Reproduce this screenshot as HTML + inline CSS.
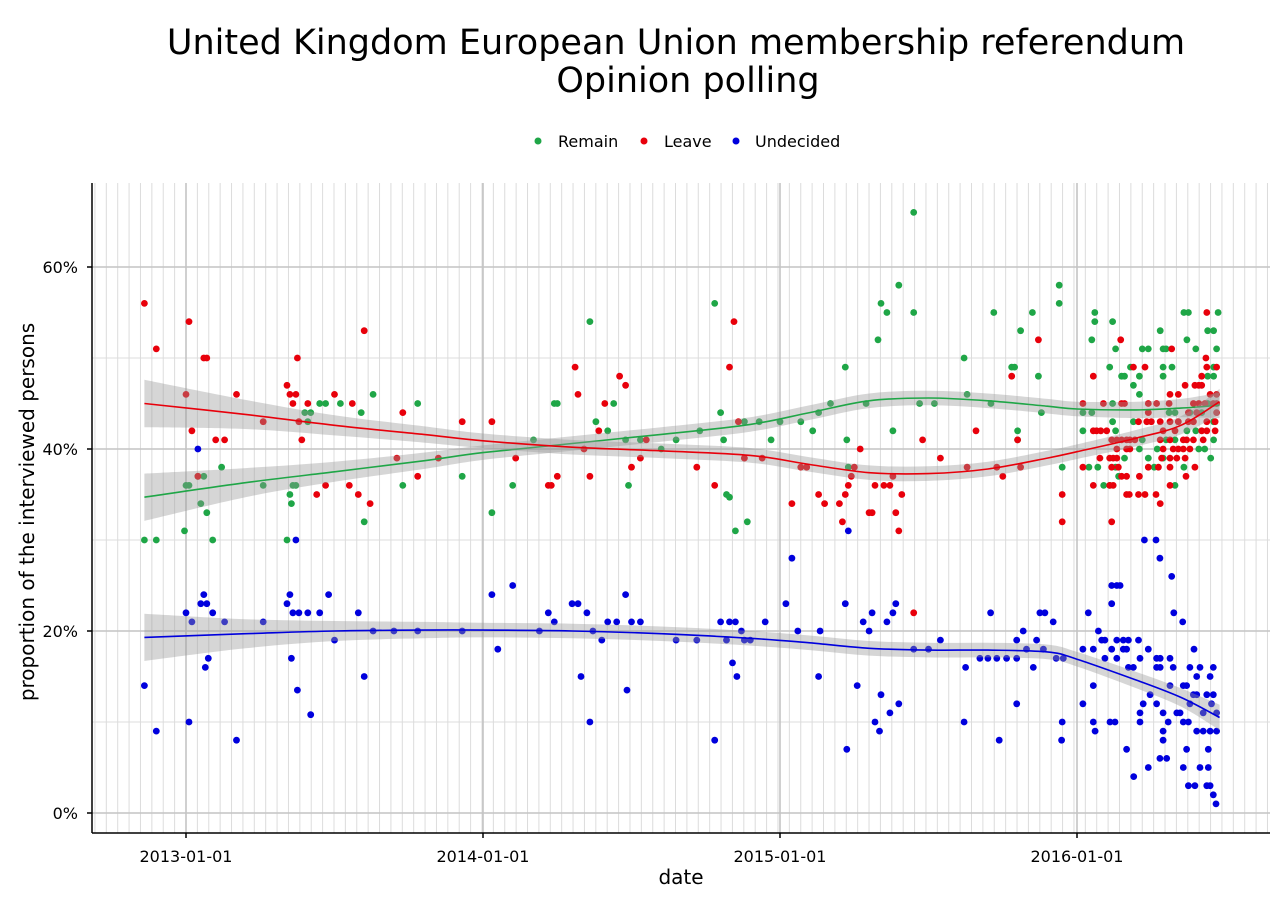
<!DOCTYPE html>
<html><head><meta charset="utf-8"><style>
html,body{margin:0;padding:0;background:#fff;}
svg{display:block;font-family:"DejaVu Sans","Liberation Sans",sans-serif;}
</style></head><body>
<svg id="chart" width="1280" height="905" viewBox="0 0 1280 905">
<text x="676" y="54" text-anchor="middle" font-size="35">United Kingdom European Union membership referendum</text>
<text x="688" y="92" text-anchor="middle" font-size="35">Opinion polling</text>
<g font-size="16">
<g><circle cx="538" cy="141" r="3.5" fill="#1fa647"/><text x="558" y="147">Remain</text></g>
<g><circle cx="644" cy="141" r="3.5" fill="#e8000b"/><text x="664" y="147">Leave</text></g>
<g><circle cx="736" cy="141" r="3.5" fill="#0000dd"/><text x="755" y="147">Undecided</text></g>
</g>
<g id="grid"></g>
<g id="marks"></g>
<g id="axes"></g>
<text x="681" y="884" text-anchor="middle" font-size="20">date</text>
<text transform="translate(34,512) rotate(-90)" text-anchor="middle" font-size="20">proportion of the interviewed persons</text>
</svg>
<script>
const xTicks=[2013,2014,2015,2016];
const xTickLabels=["2013-01-01","2014-01-01","2015-01-01","2016-01-01"];
const yTicks=[0,20,40,60];
const yTickLabels=["0%","20%","40%","60%"];
const remain=[[2012.86,30],[2012.9,30],[2013.0,36],[2013.01,36],[2012.995,31],[2013.04,37],[2013.05,34],[2013.06,37],[2013.07,33],[2013.09,30],[2013.12,38],[2013.26,36],[2013.34,30],[2013.35,35],[2013.355,34],[2013.36,36],[2013.37,36],[2013.4,44],[2013.41,43],[2013.42,44],[2013.45,45],[2013.47,45],[2013.52,45],[2013.59,44],[2013.6,32],[2013.63,46],[2013.73,36],[2013.78,45],[2013.93,37],[2014.03,33],[2014.1,36],[2014.17,41],[2014.24,45],[2014.25,45],[2014.36,54],[2014.38,43],[2014.42,42],[2014.44,45],[2014.48,41],[2014.49,36],[2014.53,41],[2014.6,40],[2014.65,41],[2014.73,42],[2014.78,56],[2014.8,44],[2014.81,41],[2014.82,35],[2014.83,34.7],[2014.85,31],[2014.88,43],[2014.89,32],[2014.93,43],[2014.97,41],[2015.0,43],[2015.07,43],[2015.11,42],[2015.13,44],[2015.17,45],[2015.22,49],[2015.225,41],[2015.23,38],[2015.29,45],[2015.33,52],[2015.34,56],[2015.36,55],[2015.38,42],[2015.4,58],[2015.45,66],[2015.45,55],[2015.47,45],[2015.52,45],[2015.62,50],[2015.63,46],[2015.71,45],[2015.72,55],[2015.78,49],[2015.79,49],[2015.8,41],[2015.8,42],[2015.81,53],[2015.85,55],[2015.87,48],[2015.88,44],[2015.94,58],[2015.94,56],[2015.95,38],
[2016.06,55],[2016.06,54],[2016.12,54],[2016.05,52],[2016.13,51],[2016.11,49],[2016.15,48],[2016.16,48],[2016.19,47],[2016.21,46],[2016.12,45],[2016.05,44],[2016.02,44],[2016.02,42],[2016.13,42],[2016.12,43],[2016.18,49],[2016.21,48],[2016.22,51],[2016.24,51],[2016.28,53],[2016.29,51],[2016.3,51],[2016.29,49],[2016.32,49],[2016.29,48],[2016.37,52],[2016.4,51],[2016.36,55],[2016.375,55],[2016.44,53],[2016.46,53],[2016.47,51],[2016.46,49],[2016.46,48],[2016.44,48],[2016.475,55],[2016.19,43],[2016.22,41],[2016.21,40],[2016.16,39],[2016.13,38],[2016.14,37],[2016.09,36],[2016.11,36],[2016.07,38],[2016.04,38],[2016.24,39],[2016.27,40],[2016.29,39],[2016.33,36],[2016.36,38],[2016.43,40],[2016.45,39],[2016.41,40],[2016.46,41],[2016.4,42],[2016.37,42],[2016.31,44],[2016.33,44],[2016.38,44],[2016.33,41],[2016.3,41],[2016.26,38],[2016.46,43],[2016.44,45],[2016.42,44]];
const leave=[[2012.86,56],[2012.9,51],[2013.0,46],[2013.01,54],[2013.02,42],[2013.04,37],[2013.06,50],[2013.07,50],[2013.1,41],[2013.13,41],[2013.17,46],[2013.26,43],[2013.34,47],[2013.35,46],[2013.36,45],[2013.37,46],[2013.375,50],[2013.38,43],[2013.39,41],[2013.41,45],[2013.44,35],[2013.47,36],[2013.5,46],[2013.55,36],[2013.56,45],[2013.58,35],[2013.6,53],[2013.62,34],[2013.71,39],[2013.73,44],[2013.78,37],[2013.85,39],[2013.93,43],[2014.03,43],[2014.11,39],[2014.22,36],[2014.23,36],[2014.25,37],[2014.31,49],[2014.32,46],[2014.34,40],[2014.36,37],[2014.39,42],[2014.41,45],[2014.46,48],[2014.48,47],[2014.5,38],[2014.53,39],[2014.55,41],[2014.72,38],[2014.78,36],[2014.83,49],[2014.845,54],[2014.86,43],[2014.88,39],[2014.94,39],[2015.04,34],[2015.07,38],[2015.09,38],[2015.13,35],[2015.15,34],[2015.2,34],[2015.21,32],[2015.22,35],[2015.23,36],[2015.24,37],[2015.25,38],[2015.27,40],[2015.3,33],[2015.31,33],[2015.32,36],[2015.35,36],[2015.37,36],[2015.38,37],[2015.39,33],[2015.4,31],[2015.41,35],[2015.45,22],[2015.48,41],[2015.54,39],[2015.63,38],[2015.66,42],[2015.73,38],[2015.75,37],[2015.78,48],[2015.8,41],[2015.81,38],[2015.87,52],[2015.95,35],[2015.95,32],
[2016.02,45],[2016.055,48],[2016.089,45],[2016.15,45],[2016.16,45],[2016.055,42],[2016.066,42],[2016.08,42],[2016.1,42],[2016.117,41],[2016.134,41],[2016.15,41],[2016.167,41],[2016.178,41],[2016.195,41],[2016.134,40],[2016.167,40],[2016.178,40],[2016.077,39],[2016.11,39],[2016.122,39],[2016.134,39],[2016.02,38],[2016.117,38],[2016.139,38],[2016.15,37],[2016.167,37],[2016.21,37],[2016.055,36],[2016.11,36],[2016.122,36],[2016.167,35],[2016.176,35],[2016.207,35],[2016.229,35],[2016.266,35],[2016.28,34],[2016.117,32],[2016.147,52],[2016.19,49],[2016.229,49],[2016.319,51],[2016.24,45],[2016.268,45],[2016.31,45],[2016.313,46],[2016.341,46],[2016.364,47],[2016.397,47],[2016.41,47],[2016.42,47],[2016.434,50],[2016.437,49],[2016.47,49],[2016.42,48],[2016.448,46],[2016.47,46],[2016.392,45],[2016.41,45],[2016.431,45],[2016.459,45],[2016.47,45],[2016.207,43],[2016.235,43],[2016.25,43],[2016.24,44],[2016.28,43],[2016.313,43],[2016.341,43],[2016.375,43],[2016.392,43],[2016.437,43],[2016.465,43],[2016.28,41],[2016.313,41],[2016.358,41],[2016.369,41],[2016.392,41],[2016.425,41],[2016.29,40],[2016.324,40],[2016.341,40],[2016.358,40],[2016.38,40],[2016.285,39],[2016.313,39],[2016.336,39],[2016.364,39],[2016.24,38],[2016.274,38],[2016.313,38],[2016.397,38],[2016.367,37],[2016.313,36],[2016.29,42],[2016.33,42],[2016.42,42],[2016.437,42],[2016.465,42],[2016.437,55],[2016.47,44],[2016.403,44],[2016.375,44]];
const undecided=[[2012.86,14],[2012.9,9],[2013.0,22],[2013.01,10],[2013.02,21],[2013.04,40],[2013.05,23],[2013.06,24],[2013.07,23],[2013.065,16],[2013.075,17],[2013.09,22],[2013.13,21],[2013.17,8],[2013.26,21],[2013.34,23],[2013.35,24],[2013.355,17],[2013.36,22],[2013.37,30],[2013.375,13.5],[2013.38,22],[2013.41,22],[2013.42,10.8],[2013.45,22],[2013.48,24],[2013.5,19],[2013.58,22],[2013.6,15],[2013.63,20],[2013.7,20],[2013.78,20],[2013.93,20],[2014.03,24],[2014.05,18],[2014.1,25],[2014.19,20],[2014.22,22],[2014.24,21],[2014.3,23],[2014.32,23],[2014.33,15],[2014.35,22],[2014.36,10],[2014.37,20],[2014.4,19],[2014.42,21],[2014.45,21],[2014.48,24],[2014.485,13.5],[2014.5,21],[2014.53,21],[2014.65,19],[2014.72,19],[2014.78,8],[2014.8,21],[2014.82,19],[2014.83,21],[2014.84,16.5],[2014.85,21],[2014.855,15],[2014.87,20],[2014.88,19],[2014.9,19],[2014.95,21],[2015.02,23],[2015.04,28],[2015.06,20],[2015.13,15],[2015.135,20],[2015.22,23],[2015.225,7],[2015.23,31],[2015.26,14],[2015.28,21],[2015.3,20],[2015.31,22],[2015.32,10],[2015.335,9],[2015.34,13],[2015.36,21],[2015.37,11],[2015.38,22],[2015.39,23],[2015.4,12],[2015.45,18],[2015.5,18],[2015.54,19],[2015.62,10],[2015.625,16],[2015.673,17],[2015.7,17],[2015.709,22],[2015.73,17],[2015.738,8],[2015.763,17],[2015.797,17],[2015.797,12],[2015.797,19],[2015.819,20],[2015.83,18],[2015.853,16],[2015.864,19],[2015.875,22],[2015.887,18],[2015.892,22],[2015.92,21],[2015.93,17],[2015.948,8],[2015.95,10],[2015.954,17],
[2016.038,22],[2016.072,20],[2016.083,19],[2016.094,19],[2016.134,19],[2016.156,19],[2016.173,19],[2016.207,19],[2016.02,18],[2016.055,18],[2016.117,18],[2016.156,18],[2016.167,18],[2016.24,18],[2016.094,17],[2016.134,17],[2016.212,17],[2016.268,17],[2016.28,17],[2016.313,17],[2016.173,16],[2016.19,16],[2016.268,16],[2016.28,16],[2016.324,16],[2016.38,16],[2016.414,16],[2016.459,16],[2016.403,15],[2016.448,15],[2016.055,14],[2016.246,13],[2016.313,14],[2016.358,14],[2016.369,14],[2016.392,13],[2016.403,13],[2016.437,13],[2016.459,13],[2016.02,12],[2016.223,12],[2016.268,12],[2016.38,12],[2016.453,12],[2016.212,11],[2016.29,11],[2016.336,11],[2016.347,11],[2016.425,11],[2016.47,11],[2016.055,10],[2016.111,10],[2016.128,10],[2016.212,10],[2016.307,10],[2016.358,10],[2016.375,10],[2016.061,9],[2016.29,9],[2016.403,9],[2016.425,9],[2016.448,9],[2016.47,9],[2016.29,8],[2016.167,7],[2016.369,7],[2016.442,7],[2016.279,6],[2016.302,6],[2016.24,5],[2016.358,5],[2016.414,5],[2016.442,5],[2016.191,4],[2016.375,3],[2016.397,3],[2016.437,3],[2016.448,3],[2016.459,2],[2016.468,1],[2016.117,25],[2016.134,25],[2016.145,25],[2016.117,23],[2016.227,30],[2016.266,30],[2016.279,28],[2016.319,26],[2016.326,22],[2016.356,21],[2016.394,18]];
const fitYears=[2012.86,2013.2,2013.5,2013.8,2014.0,2014.3,2014.6,2014.9,2015.1,2015.3,2015.5,2015.7,2015.9,2016.0,2016.2,2016.35,2016.48];
const remainFit=[34.7,36.3,37.5,38.7,39.6,40.6,41.6,42.7,44.0,45.3,45.6,45.3,44.7,44.4,44.3,44.5,44.8];
const leaveFit=[45.0,43.8,42.6,41.6,40.9,40.2,39.8,39.3,38.3,37.4,37.3,37.8,39.0,39.7,41.2,42.6,45.2];
const undecidedFit=[19.3,19.7,20.0,20.1,20.1,20.0,19.7,19.2,18.7,18.1,17.9,17.9,17.7,16.9,14.6,12.7,10.5];
const fitSE=[2.6,1.6,1.1,0.9,0.8,0.8,0.8,0.8,0.8,0.8,0.8,0.8,0.8,0.8,0.9,1.0,1.4];

const NS="http://www.w3.org/2000/svg";
const L=92,R=1270,T=183,B=833;
function xp(yr){return 186+(yr-2013)*297;}
function yp(v){return 813-v*9.1;}
function mk(tag,attrs,parent){const e=document.createElementNS(NS,tag);for(const k in attrs)e.setAttribute(k,attrs[k]);parent.appendChild(e);return e;}
const grid=document.getElementById('grid'),marks=document.getElementById('marks'),axes=document.getElementById('axes');
const step=14/365.25;
for(let t=2013-step*30;t<2016.7;t+=step){const x=xp(t);if(x<L+1||x>R)continue;
 const ln=mk('line',{x1:x,x2:x,y1:T,y2:B,stroke:'#dcdcdc','stroke-width':1},grid);
 
 }
[10,30,50].forEach(v=>{const ln=mk('line',{x1:L,x2:R,y1:yp(v),y2:yp(v),stroke:'#dcdcdc','stroke-width':1},grid);
 
 });
yTicks.forEach(v=>{const ln=mk('line',{x1:L,x2:R,y1:yp(v),y2:yp(v),stroke:'#c4c4c4','stroke-width':1.6},grid);
 
 });
xTicks.forEach(v=>{const ln=mk('line',{x1:xp(v),x2:xp(v),y1:T,y2:B,stroke:'#c4c4c4','stroke-width':1.6},grid);
 
 });
function pts(data,color,name){const g=mk('g',{},marks);
 
 
 data.forEach(d=>{const c=mk('circle',{cx:xp(d[0]).toFixed(1),cy:yp(d[1]).toFixed(1),r:3.4,fill:color},g);
  
  });}
pts(remain,'#1fa647','remain');pts(leave,'#e8000b','leave');pts(undecided,'#0000dd','undecided');
function crPath(arr,start){let d=(start?'M':'L')+arr[0][0].toFixed(1)+','+arr[0][1].toFixed(1);
 for(let i=0;i<arr.length-1;i++){const p0=arr[Math.max(0,i-1)],p1=arr[i],p2=arr[i+1],p3=arr[Math.min(arr.length-1,i+2)];
  const c1=[p1[0]+(p2[0]-p0[0])/6,p1[1]+(p2[1]-p0[1])/6],c2=[p2[0]-(p3[0]-p1[0])/6,p2[1]-(p3[1]-p1[1])/6];
  d+=' C'+c1[0].toFixed(1)+','+c1[1].toFixed(1)+' '+c2[0].toFixed(1)+','+c2[1].toFixed(1)+' '+p2[0].toFixed(1)+','+p2[1].toFixed(1);}
 return d;}
function smooth(fit,color,name){
 const up=fitYears.map((y,i)=>[xp(y),yp(fit[i]+fitSE[i])]);
 const lo=fitYears.map((y,i)=>[xp(y),yp(fit[i]-fitSE[i])]).reverse();
 const rb=mk('path',{d:crPath(up,true)+' '+crPath(lo,false)+' Z',fill:'#999','fill-opacity':0.4},marks);
 
 
 const ln=mk('path',{d:crPath(fitYears.map((y,i)=>[xp(y),yp(fit[i])]),true),fill:'none',stroke:color,'stroke-width':1.6},marks);
 
 }
smooth(remainFit,'#1fa647','remain');smooth(leaveFit,'#e8000b','leave');smooth(undecidedFit,'#0000dd','undecided');
const ya=mk('line',{x1:L,x2:L,y1:T,y2:B,stroke:'#000','stroke-width':1.5},axes);


const xa=mk('line',{x1:L,x2:R,y1:B,y2:B,stroke:'#000','stroke-width':1.5},axes);


yTicks.forEach((v,i)=>{mk('line',{x1:L-5,x2:L,y1:yp(v),y2:yp(v),stroke:'#000','stroke-width':1.5},axes);
 const t=mk('text',{x:L-14,y:yp(v)+6,'text-anchor':'end','font-size':16},axes);t.textContent=yTickLabels[i];
 
 });
xTicks.forEach((v,i)=>{mk('line',{x1:xp(v),x2:xp(v),y1:B,y2:B+5,stroke:'#000','stroke-width':1.5},axes);
 const t=mk('text',{x:xp(v),y:B+29,'text-anchor':'middle','font-size':16},axes);t.textContent=xTickLabels[i];
 
 });
</script>
</body></html>
